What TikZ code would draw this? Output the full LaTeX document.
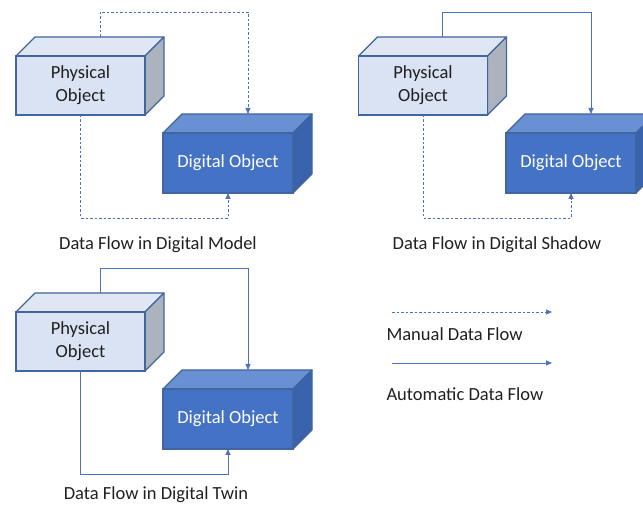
\documentclass[tikz,border=0pt]{standalone}
\usepackage{fontspec}
\setmainfont{Carlito}
\usetikzlibrary{calc,arrows.meta}

\definecolor{physfill}{HTML}{DAE3F3}
\definecolor{phystopc}{HTML}{DFE6F4}
\definecolor{physsidec}{HTML}{ADB3BD}
\definecolor{edgec}{HTML}{41659F}
\definecolor{digfill}{HTML}{4472C4}
\definecolor{digtopc}{HTML}{6990D2}
\definecolor{digsidec}{HTML}{3A63AE}
\definecolor{flowc}{HTML}{4A72BE}
\definecolor{txt}{HTML}{202020}

\tikzset{
  boxfont/.style={font=\fontsize{18.5}{23}\selectfont},
  physfront/.style={draw=edgec, line width=1.2pt, fill=physfill, outer sep=0pt,
    minimum width=129pt, minimum height=59pt, align=center, text=txt, boxfont},
  digfront/.style={draw=edgec, line width=1.2pt, fill=digfill, outer sep=0pt,
    minimum width=130pt, minimum height=60pt, align=center, text=white, boxfont},
  phystop/.style={draw=edgec, line width=1.2pt, fill=phystopc, line join=round},
  physside/.style={draw=edgec, line width=1.2pt, fill=physsidec, line join=round},
  digtop/.style={draw=edgec, line width=1.2pt, fill=digtopc, line join=round},
  digside/.style={draw=edgec, line width=1.2pt, fill=digsidec, line join=round},
  flow/.style={draw=flowc, line width=0.8pt, -{Triangle[length=6pt,width=5pt]}},
  manual/.style={flow, dash pattern=on 2.5pt off 2pt},
  caption/.style={text=txt, font=\fontsize{18.5}{22}\selectfont},
}

% a box with its top and right faces; #1 name, #2 style prefix, #3 position, #4 text
\newcommand\solidbox[4]{%
  \node[#2front] (#1) at (#3) {#4};
  \draw[#2top] (#1.north west) -- ++(19,19) -- ($(#1.north east)+(19,19)$)
      -- (#1.north east) -- cycle;
  \draw[#2side] (#1.north east) -- ++(19,19) -- ($(#1.south east)+(19,19)$)
      -- (#1.south east) -- cycle;
  \node[#2front] at (#1) {#4};
}

\begin{document}
\begin{tikzpicture}[x=1pt,y=1pt]
\clip (0,0) rectangle (643,506);
\fill[white] (0,0) rectangle (643,506);

% ---- Digital Model: both directions manual
\solidbox{p1}{phys}{80.5,420.5}{Physical\\Object}
\solidbox{d1}{dig}{228,343}{Digital Object}
\coordinate (p1t) at ($(p1.north west)+(84,19)$);
\coordinate (d1t) at ($(d1.north)+(20,19)$);
\draw[manual] (p1t) -- ++(0,25) -| (d1t);
\draw[manual] (p1.south) -- ++(0,-103) -| (d1.south);
\node[caption] (c1) at (158,261) {Data Flow in Digital Model};

% ---- Digital Shadow: automatic to digital, manual back
\solidbox{p2}{phys}{423,420.5}{Physical\\Object}
\solidbox{d2}{dig}{571,343}{Digital Object}
\coordinate (p2t) at ($(p2.north west)+(84,19)$);
\coordinate (d2t) at ($(d2.north)+(20,19)$);
\draw[flow] (p2t) -- ++(0,25) -| (d2t);
\draw[manual] (p2.south) -- ++(0,-103) -| (d2.south);
\node[caption] (c2) at (497,261) {Data Flow in Digital Shadow};

% ---- Digital Twin: both directions automatic
\solidbox{p3}{phys}{80.5,164.5}{Physical\\Object}
\solidbox{d3}{dig}{228,87}{Digital Object}
\coordinate (p3t) at ($(p3.north west)+(84,19)$);
\coordinate (d3t) at ($(d3.north)+(20,19)$);
\draw[flow] (p3t) -- ++(0,25) -| (d3t);
\draw[flow] (p3.south) -- ++(0,-103) -| (d3.south);
\node[caption] (c3) at (156,11) {Data Flow in Digital Twin};

% ---- legend
\coordinate (m1) at (392,194);
\coordinate (m2) at (552,194);
\draw[manual] (m1) -- (m2);
\node[caption, anchor=west] (lm) at (383,172) {Manual Data Flow};
\coordinate (a1) at (392,143);
\coordinate (a2) at (552,143);
\draw[flow] (a1) -- (a2);
\node[caption, anchor=west] (la) at (383,112) {Automatic Data Flow};
\end{tikzpicture}
\end{document}
